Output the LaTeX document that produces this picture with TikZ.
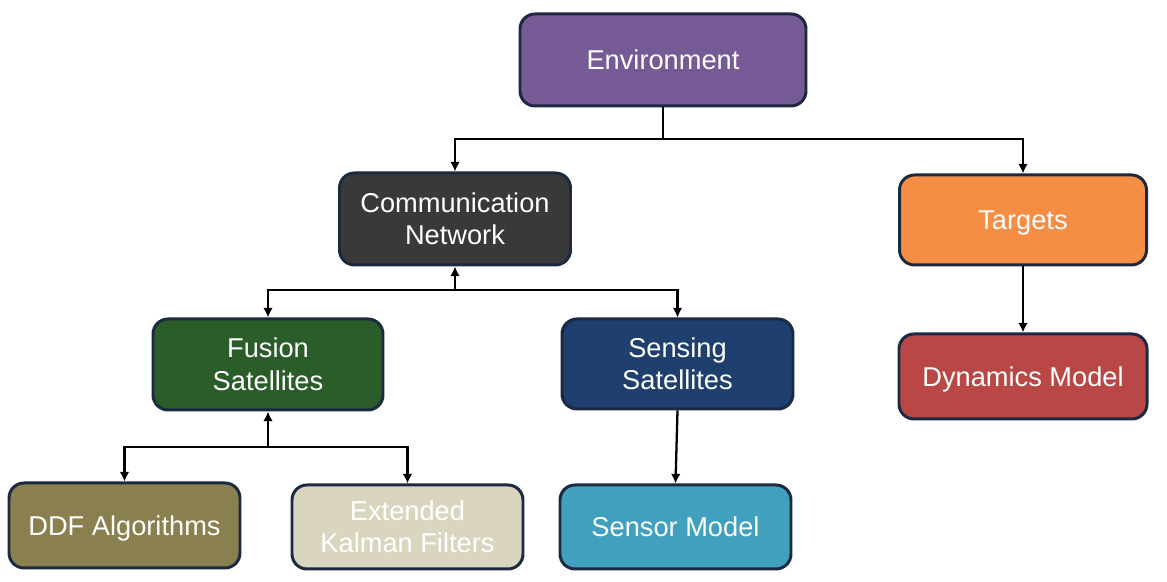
\documentclass[tikz,border=0pt]{standalone}
\usepackage{fontspec}
\setmainfont{Liberation Sans}
\usetikzlibrary{arrows.meta}
\definecolor{edgeblue}{HTML}{1B2A41}
\definecolor{envcol}{HTML}{765A96}
\definecolor{comcol}{HTML}{393939}
\definecolor{tgtcol}{HTML}{F58D45}
\definecolor{fuscol}{HTML}{2B5D2A}
\definecolor{sencol}{HTML}{1F3F6E}
\definecolor{dyncol}{HTML}{B94746}
\definecolor{ddfcol}{HTML}{8A7F4E}
\definecolor{ekfcol}{HTML}{D9D5BE}
\definecolor{sorcol}{HTML}{42A0BF}
\tikzset{
  block/.style={draw=edgeblue,line width=1.7pt,rounded corners=0.3cm,text=white,
    align=center,inner sep=0pt,font=\fontsize{15.5}{18.5}\selectfont},
  oneline/.style={text height=11.1pt,text depth=0pt},
  arr/.style={-{Latex[length=5.5pt,width=5.5pt]},line width=1.3pt},
  ln/.style={line width=1.3pt}
}
\begin{document}
\begin{tikzpicture}
        \useasboundingbox (0,0) rectangle (23.34,11.64);
        \node[block,oneline,fill=envcol,minimum width=5.72cm,minimum height=1.84cm] (env) at (13.26,10.44) {Environment};
        \node[block,fill=comcol,minimum width=4.62cm,minimum height=1.84cm] (com) at (9.10,7.26) {Communication\\Network};
        \node[block,oneline,fill=tgtcol,minimum width=4.94cm,minimum height=1.80cm] (tgt) at (20.46,7.24) {Targets};
        \node[block,fill=fuscol,minimum width=4.60cm,minimum height=1.82cm] (fus) at (5.36,4.35) {Fusion\\Satellites};
        \node[block,fill=sencol,minimum width=4.62cm,minimum height=1.80cm] (sen) at (13.55,4.36) {Sensing\\Satellites};
        \node[block,oneline,fill=dyncol,minimum width=4.96cm,minimum height=1.70cm] (dyn) at (20.46,4.11) {Dynamics Model};
        \node[block,oneline,fill=ddfcol,minimum width=4.62cm,minimum height=1.70cm] (ddf) at (2.49,1.13) {DDF Algorithms};
        \node[block,fill=ekfcol,minimum width=4.62cm,minimum height=1.68cm] (ekf) at (8.15,1.10) {Extended\\Kalman Filters};
        \node[block,oneline,fill=sorcol,minimum width=4.62cm,minimum height=1.68cm] (sor) at (13.51,1.10) {Sensor Model};
        \coordinate (j1) at (13.26,8.86);
        \coordinate (j2) at (9.10,5.84);
        \coordinate (j3) at (5.36,2.70);
        \draw[ln] (env.south) -- (j1);
        \draw[arr] (j1) -| (com.north);
        \draw[arr] (j1) -| (tgt.north);
        \draw[arr] (j2) -- (com.south);
        \draw[arr] (j2) -| (fus.north);
        \draw[arr] (j2) -| (sen.north);
        \draw[arr] (j3) -- (fus.south);
        \draw[arr] (j3) -| (ddf.north);
        \draw[arr] (j3) -| (ekf.north);
        \draw[arr] (sen.south) -- (sor.north);
        \draw[arr] (tgt.south) -- (dyn.north);
    \end{tikzpicture}
\end{document}
